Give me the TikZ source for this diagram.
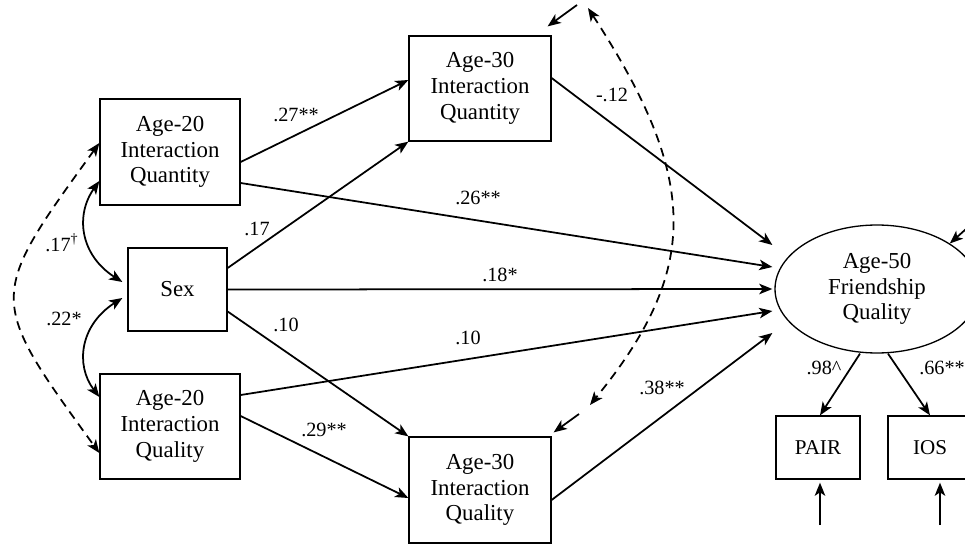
\documentclass[tikz,border=0pt]{standalone}
\usepackage{fontspec}
\setmainfont{Liberation Serif}
\usetikzlibrary{arrows.meta,calc,shapes.geometric}

\tikzset{
  obsbox/.style={draw, line width=0.75pt, align=center, inner sep=0pt,
                 font=\fontsize{13}{14.7}\selectfont},
  latent/.style={obsbox, ellipse},
  effect/.style={line width=1pt, ->},
  covar/.style={line width=1pt, <->},
  coef/.style={inner sep=0pt, font=\fontsize{11.5}{13}\selectfont}
}

\begin{document}
\begin{tikzpicture}[x=0.02cm, y=-0.02cm, >={Stealth[length=7.5pt,width=6pt,inset=2pt]}]
  % page size in pixels, (0,0) at the top left
  \useasboundingbox (0,0) rectangle (965,544);

  % Age-20 and sex boxes
  \node[obsbox, minimum width=2.8cm, minimum height=2.12cm] (qn20) at (170,152) {Age-20\\Interaction\\Quantity};
  \node[obsbox, minimum width=1.98cm, minimum height=1.66cm] (sex) at (177.5,289.5) {Sex};
  \node[obsbox, minimum width=2.8cm, minimum height=2.1cm] (ql20) at (170,426.5) {Age-20\\Interaction\\Quality};

  % Age-30 boxes
  \node[obsbox, minimum width=2.84cm, minimum height=2.1cm] (qn30) at (480,88.5) {Age-30\\Interaction\\Quantity};
  \node[obsbox, minimum width=2.84cm, minimum height=2.12cm] (ql30) at (480,490) {Age-30\\Interaction\\Quality};

  % Age-50 latent and its indicators
  \node[latent, minimum width=4.08cm, minimum height=2.56cm] (fq50) at (877,289) {Age-50\\Friendship\\Quality};
  \node[obsbox, font=\fontsize{12}{14}\selectfont, minimum width=1.68cm, minimum height=1.26cm] (pair) at (818,447.5) {PAIR};
  \node[obsbox, font=\fontsize{12}{14}\selectfont, minimum width=1.68cm, minimum height=1.26cm] (ios) at (930,447.5) {IOS};

  % arrow ends in front of the latent
  \foreach \k/\dy in {1/-44,2/-22,3/0,4/22,5/44}
  \coordinate (in\k) at ($(fq50.west)+(-2,\dy)$);

  % paths from the Age-20 variables and sex
  \draw[effect] ($(qn20.east)+(0,10)$) -- ($(qn30.west)+(0,-8.5)$);
  \draw[effect] ($(qn20.east)+(0,31)$) -- (in2);
  \draw[effect] ($(sex.east)+(0,-21.5)$) -- (qn30.south west);
  \draw[effect] (sex.east) -- (in3);
  \draw[effect] ($(sex.east)+(0,22)$) -- (ql30.north west);
  \draw[effect] ($(ql20.east)+(0,-31.5)$) -- (in4);
  \draw[effect] ($(ql20.east)+(0,-10.5)$) -- ($(ql30.west)+(0,8)$);

  % paths from the Age-30 variables
  \draw[effect] ($(qn30.east)+(0,-10.5)$) -- (in1);
  \draw[effect] ($(ql30.east)+(0,10)$) -- (in5);

  % loadings
  \draw[effect] ($(fq50.south)+(-17,0)$) -- ($(pair.north)+(2,0)$);
  \draw[effect] ($(fq50.south)+(11,0)$) -- (ios.north);

  % covariances among the Age-20 variables and sex
  \draw[covar] ($(qn20.west)+(0,29)$) .. controls (75,215) and (80,255) .. ($(sex.west)+(-5,-7.5)$);
  \draw[covar] ($(sex.west)+(-5,8.5)$) .. controls (80,325) and (75,365) .. ($(ql20.west)+(0,-29.5)$);
  \draw[covar, dash pattern=on 5pt off 3.5pt] ($(qn20.west)+(0,-9)$) .. controls (-13,298) and (-13,298) .. ($(ql20.west)+(0,26.5)$);

  % residuals
  \coordinate (e30n) at (577,5);
  \coordinate (e30l) at (579,414);
  \coordinate (efq) at (975,221);
  \coordinate (epair) at (820,525);
  \coordinate (eios) at (940,525);
  \draw[effect] (e30n) -- ($(qn30.north east)+(-4,-9)$);
  \draw[effect] (e30l) -- ($(ql30.north east)+(2,-4)$);
  \draw[effect] (efq) -- (fq50.32);
  \draw[effect] (epair) -- ($(pair.south)+(2,3)$);
  \draw[effect] (eios) -- ($(ios.south)+(10,3)$);

  % residual covariance of the Age-30 variables
  \coordinate (c30n) at (588,8);
  \coordinate (c30l) at (590,405);
  \draw[covar, dash pattern=on 5pt off 3.5pt] (c30n) .. controls (700,180) and (700,270) .. (c30l);

  % coefficients
  \node[coef] (b1) at (296,115) {.27**};
  \node[coef] (b2) at (478,198) {.26**};
  \node[coef] (b3) at (257,229) {.17};
  \node[coef] (b4) at (500,275) {.18*};
  \node[coef] (b5) at (286,325) {.10};
  \node[coef] (b6) at (468,338) {.10};
  \node[coef] (b7) at (324,430) {.29**};
  \node[coef] (b8) at (612,95) {-.12};
  \node[coef] (b9) at (662,388) {.38**};
  \node[coef] (l1) at (824,368) {.98\textasciicircum};
  \node[coef] (l2) at (942,368) {.66**};
  \node[coef] (r1) at (62,243) {.17\textsuperscript{\textdagger}};
  \node[coef] (r2) at (64,319) {.22*};
\end{tikzpicture}
\end{document}
